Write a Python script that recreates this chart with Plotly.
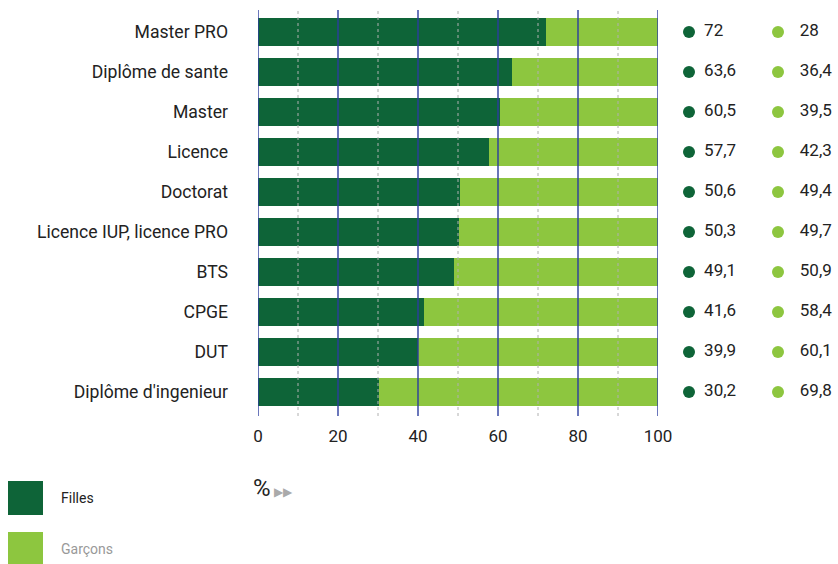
import plotly.graph_objects as go

categories = ["Master PRO", "Diplôme de sante", "Master", "Licence", "Doctorat",
              "Licence IUP, licence PRO", "BTS", "CPGE", "DUT", "Diplôme d'ingenieur"]
filles = [72, 63.6, 60.5, 57.7, 50.6, 50.3, 49.1, 41.6, 39.9, 30.2]
garcons = [28, 36.4, 39.5, 42.3, 49.4, 49.7, 50.9, 58.4, 60.1, 69.8]
major_ticks = [0, 20, 40, 60, 80, 100]
minor_ticks = [10, 30, 50, 70, 90]
series_names = ["Filles", "Garçons"]

DARK = "#0e6438"
LIGHT = "#8dc63f"
BLUE = "#2c3d9e"
FONT = "Roboto"
W, H = 838, 564
PH = H - 158  # plot height in px (t=10, b=148)


def fmt(v):
    return f"{v:g}".replace(".", ",")


def py(px):
    # page pixel row -> paper y
    return 1 - (px - 10) / PH


fig = go.Figure()

fig.add_trace(go.Bar(y=categories, x=filles, orientation="h", marker_color=DARK,
                     marker_line_width=0, name=series_names[0]))
fig.add_trace(go.Bar(y=categories, x=garcons, orientation="h", marker_color=LIGHT,
                     marker_line_width=0, name=series_names[1]))

# value columns on the right: dot, then the number next to it
dot_x = [0, 1]
text_x = [0.17, 1.245]
for col, (vals, color) in enumerate([(filles, DARK), (garcons, LIGHT)]):
    fig.add_trace(go.Scatter(
        x=[dot_x[col]] * len(vals), y=categories, mode="markers",
        marker=dict(color=color, size=12), xaxis="x2", yaxis="y",
        cliponaxis=False, hoverinfo="skip"))
    fig.add_trace(go.Scatter(
        x=[text_x[col]] * len(vals), y=categories, mode="text",
        text=[fmt(v) for v in vals], textposition="middle right",
        textfont=dict(family=FONT, size=17, color="#222"),
        xaxis="x2", yaxis="y", cliponaxis=False, hoverinfo="skip"))

# gridlines drawn above the bars
shapes = []
for t in minor_ticks:
    shapes.append(dict(type="line", xref="x", yref="paper", x0=t, x1=t, y0=0, y1=1,
                       line=dict(color="#b0b0b0", width=1, dash="dot"), layer="above"))
for t in major_ticks:
    shapes.append(dict(type="line", xref="x", yref="paper", x0=t, x1=t, y0=0, y1=1,
                       line=dict(color=BLUE, width=1.4), layer="above"))

# custom legend
legend_cols = [DARK, LIGHT]
legend_txt = ["#222", "#999"]
annotations = []
for i, name in enumerate(series_names):
    top = 481 + i * 51
    shapes.append(dict(type="rect", xref="paper", yref="paper",
                       x0=8 / W, x1=43 / W, y0=py(min(top + 34, H)), y1=py(top),
                       fillcolor=legend_cols[i], line_width=0))
    annotations.append(dict(text=name, xref="paper", yref="paper",
                            x=59 / W, y=py(top + 17),
                            xanchor="left", yanchor="middle", showarrow=False,
                            font=dict(family=FONT, size=14, color=legend_txt[i])))

annotations.append(dict(text="%<span style='font-size:12px;color:#aaaaaa'> ▶▶</span>",
                        xref="paper", yref="paper", x=251 / W, y=py(488),
                        xanchor="left", yanchor="middle",
                        showarrow=False, font=dict(family=FONT, size=24, color="#222")))

fig.update_layout(
    barmode="stack", bargap=0.28, showlegend=False,
    width=W, height=H,
    margin=dict(l=0, r=0, t=10, b=148, autoexpand=False),
    paper_bgcolor="white", plot_bgcolor="white",
    font=dict(family=FONT, color="#222"),
    xaxis=dict(domain=[258 / W, 658 / W], range=[0, 100], tickvals=major_ticks,
               showgrid=False, zeroline=False, showline=False, ticks="",
               tickfont=dict(size=17, color="#222"), ticklabelstandoff=8,
               automargin=False),
    xaxis2=dict(domain=[680 / W, 1], range=[-0.101, 1.674], visible=False,
                anchor="y"),
    yaxis=dict(autorange=False, range=[9.6, -0.55], showgrid=False, zeroline=False,
               showline=False, ticks="", tickfont=dict(size=17.6, color="#222"),
               ticklabelstandoff=29, automargin=False),
)
fig.update_layout(shapes=shapes, annotations=annotations)

fig.write_html("out.html", post_script="document.body.style.margin='0';",
               config={"displayModeBar": False})
